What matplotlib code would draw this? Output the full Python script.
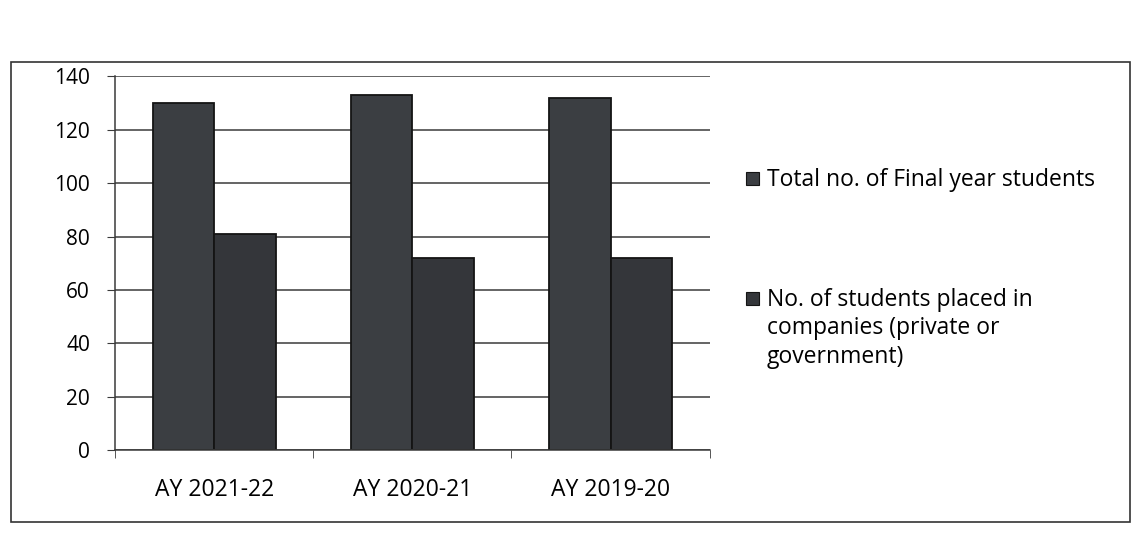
import matplotlib.pyplot as plt
from matplotlib.patches import Rectangle
import numpy as np

# data
years = ["AY 2021-22", "AY 2020-21", "AY 2019-20"]
total_students = [130, 133, 132]
placed_students = [81, 72, 72]
y_ticks = [0, 20, 40, 60, 80, 100, 120, 140]

series_labels = ["Total no. of Final year students",
                 "No. of students placed in\ncompanies (private or\ngovernment)"]
bar_colors = ['#3b3e42', '#34363a']

plt.rcParams['font.family'] = ['Open Sans', 'DejaVu Sans']

fig = plt.figure(figsize=(11.39, 5.38), dpi=100)
ax = fig.add_axes([0.101, 0.163, 0.522, 0.695])

x = np.arange(len(years))
w = 0.31
ax.bar(x - w / 2, total_students, w, color=bar_colors[0], edgecolor='#141414', linewidth=1.3)
ax.bar(x + w / 2, placed_students, w, color=bar_colors[1], edgecolor='#141414', linewidth=1.3)

ax.set_ylim(0, 140)
ax.set_xlim(-0.5, len(years) - 0.5)
ax.set_yticks(y_ticks)
ax.set_xticks(np.arange(len(years) + 1) - 0.5, minor=True)
ax.set_xticks(x)
ax.set_xticklabels(years)
ax.grid(axis='y', color='#3a3a3a', linewidth=1.1)
ax.set_axisbelow(True)

for s in ['top', 'right']:
    ax.spines[s].set_visible(False)
for s in ['left', 'bottom']:
    ax.spines[s].set_color('#3a3a3a')
    ax.spines[s].set_linewidth(1.1)

ax.tick_params(axis='y', length=6, color='#3a3a3a', labelsize=15, pad=12)
ax.tick_params(axis='x', which='major', length=0, labelsize=16.5, pad=20)
ax.tick_params(axis='x', which='minor', length=6, color='#3a3a3a')

# legend drawn by hand so the marker sits on the first line of each entry
legend_y = [0.668, 0.445]
for lab, col, ly in zip(series_labels, bar_colors, legend_y):
    fig.patches.append(Rectangle((0.655, ly - 0.012), 0.011, 0.024, transform=fig.transFigure,
                                 facecolor=col, edgecolor='#141414', linewidth=0.8))
    fig.text(0.673, ly + 0.02, lab, fontsize=16.5, va='top', ha='left', linespacing=1.25)

fig.patches.append(Rectangle((0.01, 0.03), 0.982, 0.855, transform=fig.transFigure,
                             fill=False, edgecolor='#333333', linewidth=1.2))

fig.savefig('out.png', dpi=100)
